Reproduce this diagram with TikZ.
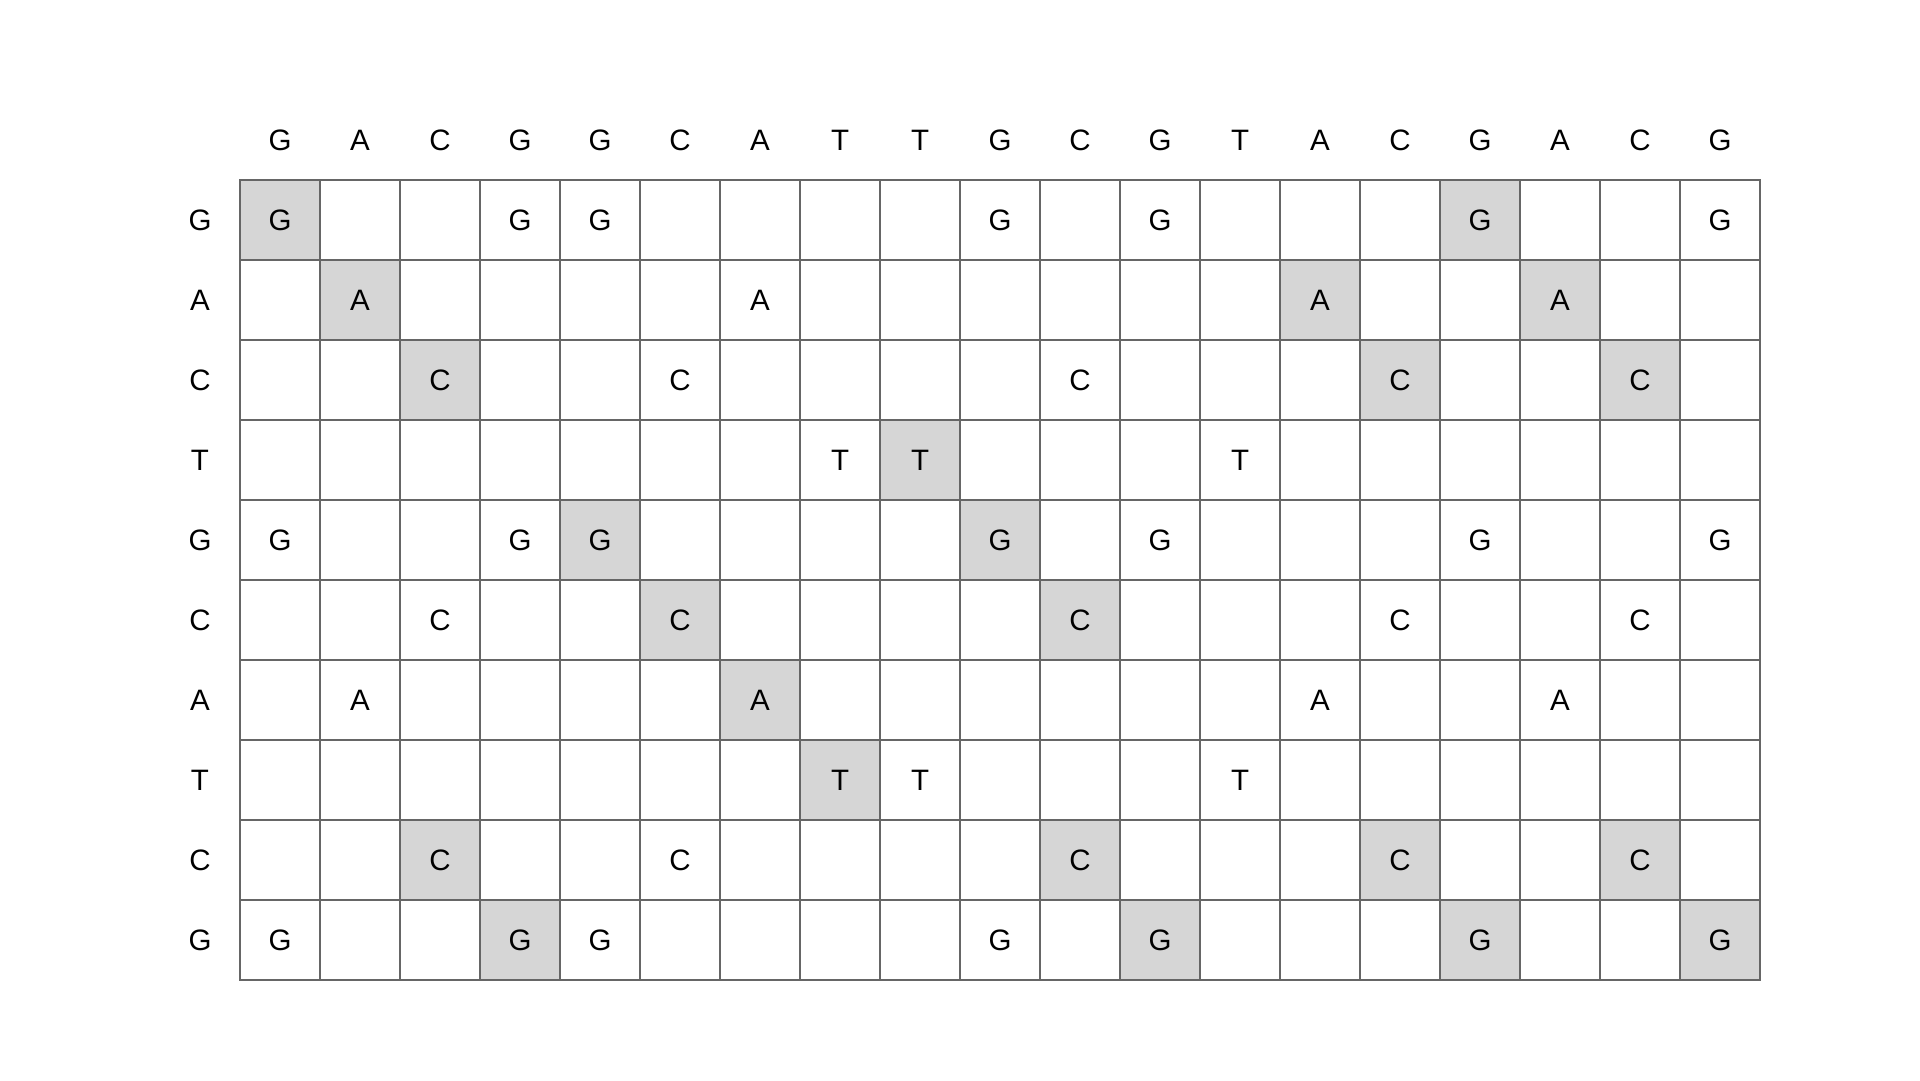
\documentclass[tikz,border=0pt]{standalone}
\usepackage{xcolor}
\usepackage{fontspec}
\setmainfont{Liberation Sans}
\usepackage{tikz}
\definecolor{gridgray}{HTML}{666666}
\definecolor{hitgray}{HTML}{D6D6D6}

\begin{document}
\begin{tikzpicture}[
		every node/.style={font=\fontsize{10.5}{12}\selectfont},
		base/.style={inner sep=0pt},
		cell/.style={draw=gridgray, line width=0.5pt, minimum size=1cm, inner sep=0pt}
	]
		\useasboundingbox (0,0) rectangle (24,13.5);
		\def\colseq{G,A,C,G,G,C,A,T,T,G,C,G,T,A,C,G,A,C,G}
		\def\rowseq{G,A,C,T,G,C,A,T,C,G}
		
		% shaded path
		\foreach \i/\j in {
			1/1, 1/16, 2/2, 2/14, 2/17, 3/3, 3/15, 3/18, 4/9, 5/5, 5/10,
			6/6, 6/11, 7/7, 8/8, 9/3, 9/11, 9/15, 9/18, 10/4, 10/12, 10/16, 10/19
		}{
			\fill[hitgray] (2+\j, 11.25-\i) rectangle ++(1, 1);
		};
		
		% headings
		\foreach \cb [count=\j] in \colseq
			\node[base] (col\j) at (2.5+\j, 11.75) {\cb};
		\foreach \rb [count=\i] in \rowseq
			\node[base] (row\i) at (2.5, 11.75-\i) {\rb};
		
		% cells
		\foreach \rb [count=\i] in \rowseq {
			\foreach \cb [count=\j] in \colseq {
				\node[cell] (c\i-\j) at (2.5+\j, 11.75-\i) {\ifx\rb\cb\cb\fi};
			};
		};
		
		\end{tikzpicture}
\end{document}
